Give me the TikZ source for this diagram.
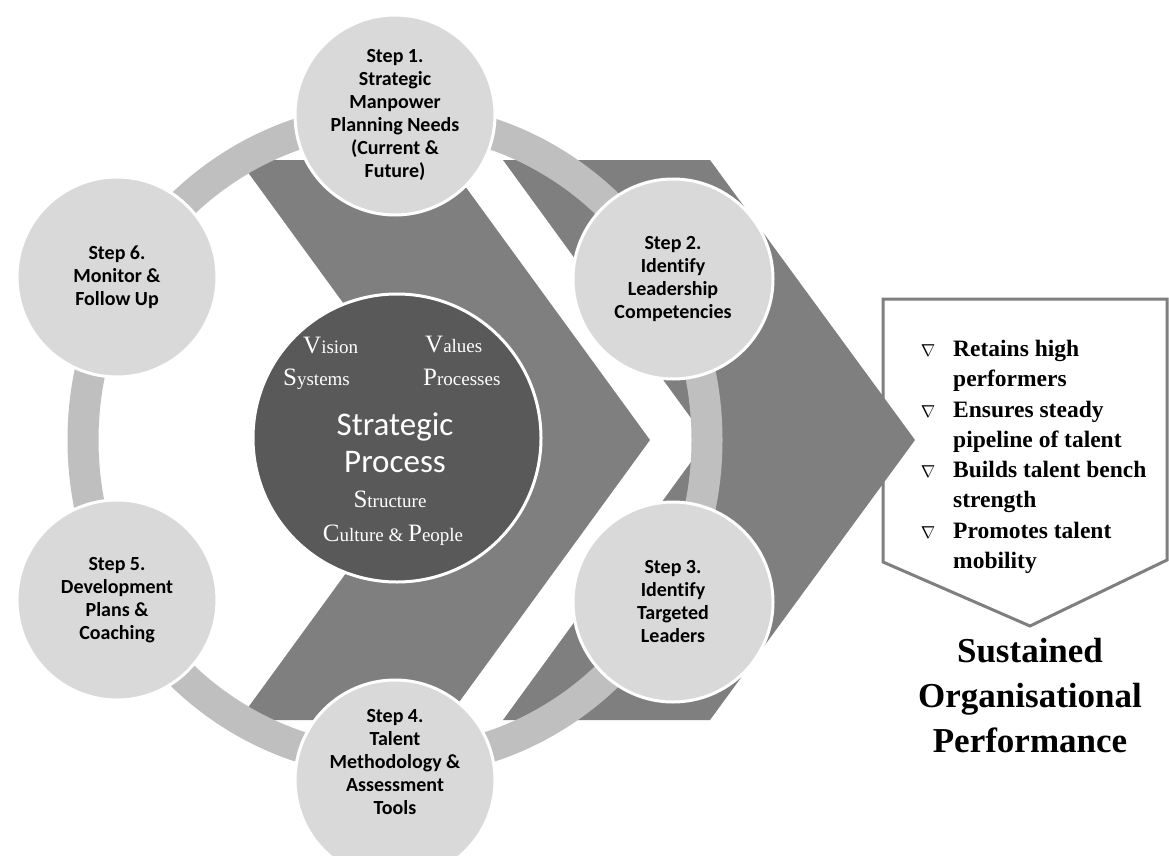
\documentclass[tikz,border=0pt]{standalone}
\usepackage{fontspec}
\setmainfont{Carlito}[Ligatures=NoCommon]
\newfontfamily\cambriaish{Liberation Serif}
\usepackage{tikz}

\definecolor{ringgray}{HTML}{BFBFBF}
\definecolor{stepgray}{HTML}{D9D9D9}
\definecolor{arrowgray}{HTML}{7F7F7F}
\definecolor{coregray}{HTML}{595959}

\newcommand{\firstletter}[1]{{\fontsize{25}{25}\selectfont #1}}

\tikzset{
  stepnode/.style={circle, draw=white, line width=3, fill=stepgray, minimum size=200, inner sep=0, align=center, font=\fontsize{20}{23}\selectfont\bfseries},
  steplabel/.style={inner sep=0, align=center, font=\fontsize{20}{23}\selectfont\bfseries},
  corenode/.style={circle, draw=white, line width=3, fill=coregray, minimum size=288, inner sep=0},
  coreword/.style={anchor=base west, inner sep=0, text=white, font=\cambriaish\fontsize{19}{19}\selectfont},
  corebig/.style={anchor=base, inner sep=0, text=white, font=\fontsize{33}{37}\selectfont},
  bulletmark/.style={anchor=base, inner sep=0, font=\fontsize{17}{17}\selectfont},
  bullettext/.style={anchor=base west, inner sep=0, font=\cambriaish\bfseries\fontsize{23.5}{30}\selectfont},
  titletext/.style={inner sep=0, align=center, font=\cambriaish\bfseries\fontsize{35}{45}\selectfont}
}

\begin{document}
\begin{tikzpicture}[x=1pt, y=-1pt]

\clip (0,0) rectangle (1169,856);
\fill[white] (0,0) rectangle (1169,856);
\coordinate (hub) at (395,440);

% outcome box
\draw[arrowgray, line width=3, fill=white] (883,299) -- (1167,299) -- (1167,560) -- (1030,626) -- (883,562) -- cycle;

% arrows behind the wheel
\fill[arrowgray] (239,160) -- (446,160) -- (650,440) -- (446,720) -- (239,720) -- (443,440) -- cycle;
\fill[arrowgray] (503,160) -- (710,160) -- (915,440) -- (710,720) -- (503,720) -- (707,440) -- cycle;

% wheel
\draw[ringgray, line width=31] (hub) ellipse [x radius=312pt, y radius=322pt];

% step nodes
\node[stepnode] (step1) at (395,115) {Step 1.\\Strategic\\Manpower\\Planning Needs\\(Current \&\\Future)};
\node[stepnode] (step2) at (673,279) {Step 2.\\Identify\\Leadership\\Competencies};
\node[stepnode] (step3) at (673,602) {Step 3.\\Identify\\Targeted\\Leaders};
\node[stepnode] (step4) at (395,780) {};
\node[steplabel] (step4text) at (395,762) {Step 4.\\Talent\\Methodology \&\\Assessment\\Tools};
\node[stepnode] (step5) at (117,600) {Step 5.\\Development\\Plans \&\\Coaching};
\node[stepnode] (step6) at (117,277) {Step 6.\\Monitor \&\\Follow Up};

% centre circle
\node[corenode] (core) at (397,438) {};

\node[coreword] (vision) at (303,353) {\firstletter{V}ision};
\node[coreword] (values) at (425,352) {\firstletter{V}alues};
\node[coreword] (systems) at (283,385) {\firstletter{S}ystems};
\node[coreword] (processes) at (423,385) {\firstletter{P}rocesses};
\node[corebig] (strategic) at (395,435) {Strategic};
\node[corebig] (process) at (395,472) {Process};
\node[coreword, anchor=base] (structure) at (390,507) {\firstletter{S}tructure};
\node[coreword, anchor=base] (culture) at (393,541) {\firstletter{C}ulture \& \firstletter{P}eople};

% benefits
\foreach \k/\yb/\lineA/\lineB in {1/356/Retains high/performers, 2/417/Ensures steady/pipeline of talent, 3/477/Builds talent bench/strength, 4/538/Promotes talent/mobility}
{
  \node[bulletmark] (mark\k) at (928,\yb) {$\nabla$};
  \node[bullettext] (pt\k) at (953,\yb) {\lineA};
  \node[bullettext] (pt\k b) at (953,\yb+30) {\lineB};
}

% outcome
\node[titletext] (outcome) at (1030,696) {Sustained\\Organisational\\Performance};

\end{tikzpicture}
\end{document}
